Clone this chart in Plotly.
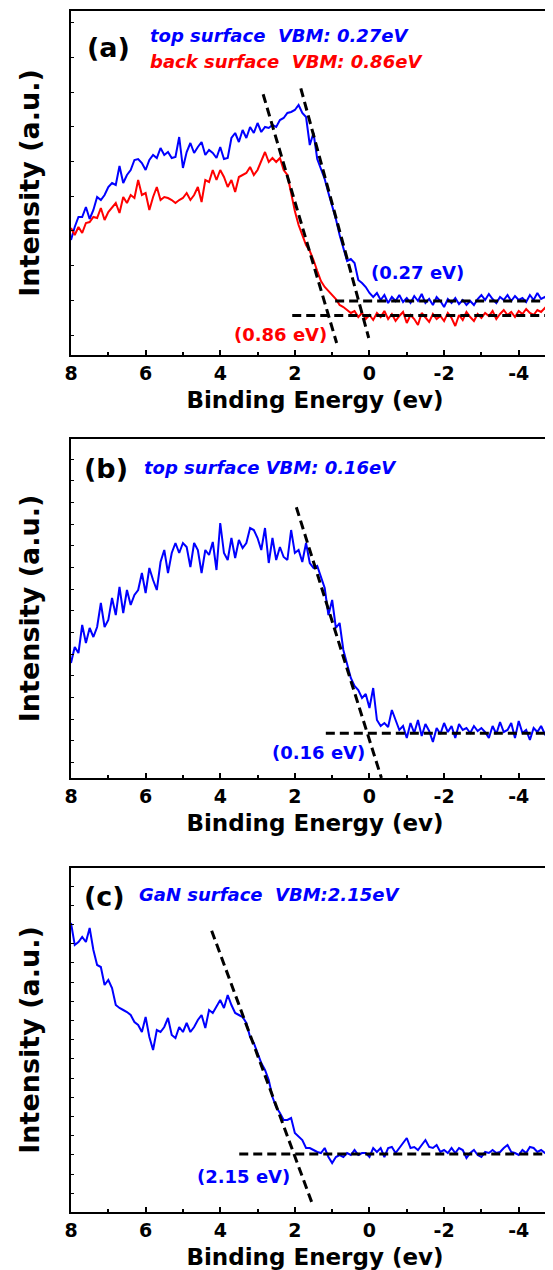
import plotly.graph_objects as go

# ---------------- data (intensity in arbitrary units) ----------------
energy = [round(8.0 - 0.1 * i, 1) for i in range(130)]  # binding energy, eV

a_top = [115, 128, 138, 138, 148, 136, 145, 158, 155, 160,
         168, 172, 170, 189, 172, 180, 185, 195, 196, 192,
         185, 195, 200, 197, 207, 200, 203, 197, 198, 218,
         187, 203, 212, 202, 208, 213, 200, 205, 202, 197,
         208, 196, 197, 217, 222, 213, 225, 217, 228, 222,
         232, 223, 228, 227, 230, 228, 235, 237, 242, 243,
         245, 250, 242, 238, 210, 222, 196, 186, 176, 162,
         150, 136, 120, 108, 94, 96, 92, 75, 72, 68,
         62, 58, 62, 55, 60, 52, 58, 54, 60, 53,
         57, 52, 59, 54, 61, 52, 56, 50, 58, 54,
         48, 56, 52, 57, 51, 55, 50, 54, 50, 56,
         60, 55, 61, 56, 52, 58, 55, 60, 54, 59,
         55, 57, 53, 60, 55, 62, 56, 58, 54, 59]

a_back = [127, 120, 128, 122, 132, 133, 138, 137, 147, 135,
          143, 148, 152, 142, 158, 152, 160, 157, 175, 160,
          162, 145, 158, 168, 155, 158, 157, 155, 152, 155,
          157, 162, 155, 160, 168, 153, 175, 173, 185, 175,
          185, 178, 168, 175, 163, 178, 180, 182, 188, 180,
          185, 195, 203, 193, 197, 193, 197, 185, 180, 162,
          144, 130, 120, 110, 104, 95, 84, 74, 68, 64,
          60, 56, 50, 48, 45, 42, 44, 38, 42, 36,
          40, 35, 42, 38, 44, 36, 41, 34, 39, 43,
          32, 40, 36, 30, 42, 37, 33, 41, 36, 39,
          34, 42, 37, 29, 40, 35, 43, 38, 34, 41,
          37, 42, 39, 44, 36, 41, 45, 40, 43, 38,
          44, 41, 46, 42, 40, 45, 43, 47, 42, 46]

b_top = [115, 131, 125, 153, 135, 150, 141, 151, 175, 151,
         158, 180, 163, 191, 165, 188, 173, 183, 188, 205,
         185, 210, 198, 188, 216, 228, 205, 225, 235, 225,
         235, 231, 211, 235, 228, 205, 228, 223, 236, 208,
         255, 225, 218, 240, 220, 238, 230, 235, 250, 248,
         240, 228, 250, 215, 240, 218, 231, 221, 218, 248,
         225, 228, 216, 235, 215, 210, 212, 200, 190, 163,
         178, 150, 155, 128, 115, 100, 92, 88, 80, 84,
         70, 90, 58, 52, 55, 51, 68, 58, 48, 52,
         40, 55, 45, 58, 42, 54, 47, 36, 50, 44,
         55, 46, 52, 40, 54, 48, 50, 45, 52, 47,
         50, 46, 40, 52, 44, 56, 46, 48, 55, 40,
         57, 45, 48, 38, 50, 46, 52, 44, 49, 35]

c_gan = [289, 267, 270, 275, 270, 284, 262, 247, 245, 227,
         232, 224, 207, 204, 202, 200, 197, 190, 187, 180,
         195, 175, 162, 182, 180, 185, 194, 177, 174, 185,
         180, 189, 180, 185, 192, 197, 184, 202, 199, 205,
         212, 204, 217, 207, 199, 197, 195, 189, 175, 169,
         159, 149, 142, 132, 115, 105, 99, 92, 92, 94,
         79, 75, 72, 64, 64, 62, 60, 59, 64, 55,
         49, 55, 57, 55, 59, 57, 62, 57, 59, 59,
         55, 64, 60, 64, 55, 64, 65, 59, 64, 69,
         74, 64, 65, 62, 67, 72, 65, 64, 67, 60,
         62, 59, 64, 59, 64, 62, 54, 59, 62, 57,
         55, 60, 59, 62, 59, 60, 64, 67, 60, 59,
         57, 62, 59, 65, 64, 60, 62, 59, 57, 60]

# linear extrapolation lines (leading edge and background), eV / a.u.
a_top_edge_x, a_top_edge_y = [1.84, 0.02], [266.7, 17]
a_top_bg_x, a_top_bg_y = [0.92, -5.1], [54, 54]
a_back_edge_x, a_back_edge_y = [2.85, 0.88], [260.7, 12]
a_back_bg_x, a_back_bg_y = [2.07, -5.1], [39.5, 39.5]
b_edge_x, b_edge_y = [1.96, -0.32], [270.7, 0]
b_bg_x, b_bg_y = [1.17, -5.1], [44.7, 44.7]
c_edge_x, c_edge_y = [4.23, 1.53], [281.3, 8]
c_bg_x, c_bg_y = [3.49, -5.1], [58, 58]

x_ticks = [8, 6, 4, 2, 0, -2, -4]
x_tick_text = ["8", "6", "4", "2", "0", "-2", "-4"]
x_minor = [7, 5, 3, 1, -1, -3, -5]

# ---------------- figure ----------------
FONT = "DejaVu Sans"
BLUE = "#0000FF"
RED = "#FF0000"
W, H = 553, 1270

fig = go.Figure()

def curve(x, y, color, n):
    fig.add_trace(go.Scatter(x=x, y=y, mode="lines", line=dict(color=color, width=2),
                             xaxis=f"x{n}", yaxis=f"y{n}", hoverinfo="skip"))

def dashed(x, y, n):
    fig.add_trace(go.Scatter(x=x, y=y, mode="lines",
                             line=dict(color="black", width=3, dash="9px,5px"),
                             xaxis=f"x{n}", yaxis=f"y{n}", hoverinfo="skip"))

curve(energy, a_top, BLUE, "")
curve(energy, a_back, RED, "")
dashed(a_top_edge_x, a_top_edge_y, "")
dashed(a_top_bg_x, a_top_bg_y, "")
dashed(a_back_edge_x, a_back_edge_y, "")
dashed(a_back_bg_x, a_back_bg_y, "")

curve(energy, b_top, BLUE, "2")
dashed(b_edge_x, b_edge_y, "2")
dashed(b_bg_x, b_bg_y, "2")

curve(energy, c_gan, BLUE, "3")
dashed(c_edge_x, c_edge_y, "3")
dashed(c_bg_x, c_bg_y, "3")

# panel geometry in figure px: (top, bottom), y-range height, tick0, dtick
panels = [(3, 347, 344, 20.0, 34.7),
          (431, 770, 339, 15.7, 21.65),
          (860, 1204, 344, 18.7, 19.2)]

layout = dict(width=W, height=H, margin=dict(l=63, r=0, t=0, b=0),
              paper_bgcolor="white", plot_bgcolor="white", showlegend=False,
              font=dict(family=FONT, color="black"))

for i, (top, bot, hgt, t0, dt) in enumerate(panels):
    sfx = "" if i == 0 else str(i + 1)
    layout["xaxis" + sfx] = dict(
        domain=[0, 1], anchor="y" + sfx, range=[8, -5.08],
        showline=True, linecolor="black", linewidth=1.5, mirror=True,
        showgrid=False, zeroline=False,
        ticks="inside", ticklen=5, tickwidth=1.5, tickcolor="black",
        tickvals=x_ticks, ticktext=x_tick_text, ticklabelstandoff=0,
        tickfont=dict(family=FONT, size=19, weight="bold", color="black"),
        minor=dict(tickvals=x_minor, ticks="inside", ticklen=3, tickwidth=1.5, tickcolor="black"),
        title=dict(text="<b>Binding Energy (ev)</b>", standoff=9,
                   font=dict(family=FONT, size=23, color="black")),
    )
    layout["yaxis" + sfx] = dict(
        domain=[(H - bot) / H, (H - top) / H], anchor="x" + sfx, range=[0, hgt],
        showline=True, linecolor="black", linewidth=1.5, mirror=True,
        showgrid=False, zeroline=False,
        ticks="inside", ticklen=3, tickwidth=1.2, tickcolor="black",
        tick0=t0, dtick=dt, showticklabels=False,
        title=dict(text="<b>Intensity (a.u.)</b>", standoff=22,
                   font=dict(family=FONT, size=27, color="black")),
    )

fig.update_layout(**layout)

def note(text, n, x, y, color, size, xanchor="left"):
    fig.add_annotation(text=text, xref=f"x{n} domain", yref=f"y{n} domain", x=x, y=y,
                       xanchor=xanchor, yanchor="middle", showarrow=False,
                       font=dict(family=FONT, size=size, color=color))

def data_note(text, n, x, y, color, size=18):
    fig.add_annotation(text=text, xref=f"x{n}", yref=f"y{n}", x=x, y=y,
                       xanchor="center", yanchor="middle", showarrow=False,
                       font=dict(family=FONT, size=size, color=color))

note("<b>(a)</b>", "", 0.028, 0.895, "black", 27)
note("<b><i>top surface\u00a0 VBM: 0.27eV</i></b>", "", 0.158, 0.930, BLUE, 18)
note("<b><i>back surface\u00a0 VBM: 0.86eV</i></b>", "", 0.158, 0.852, RED, 18)
data_note("<b>(0.27 eV)</b>", "", -1.29, 82, BLUE)
data_note("<b>(0.86 eV)</b>", "", 2.38, 20, RED)

note("<b>(b)</b>", "2", 0.022, 0.912, "black", 27)
note("<b><i>top surface VBM: 0.16eV</i></b>", "2", 0.145, 0.917, BLUE, 18)
data_note("<b>(0.16 eV)</b>", "2", 1.36, 26, BLUE)

note("<b>(c)</b>", "3", 0.022, 0.916, "black", 27)
note("<b><i>GaN surface\u00a0 VBM:2.15eV</i></b>", "3", 0.135, 0.922, BLUE, 18)
data_note("<b>(2.15 eV)</b>", "3", 3.38, 36, BLUE)

fig.write_html("out.html")
